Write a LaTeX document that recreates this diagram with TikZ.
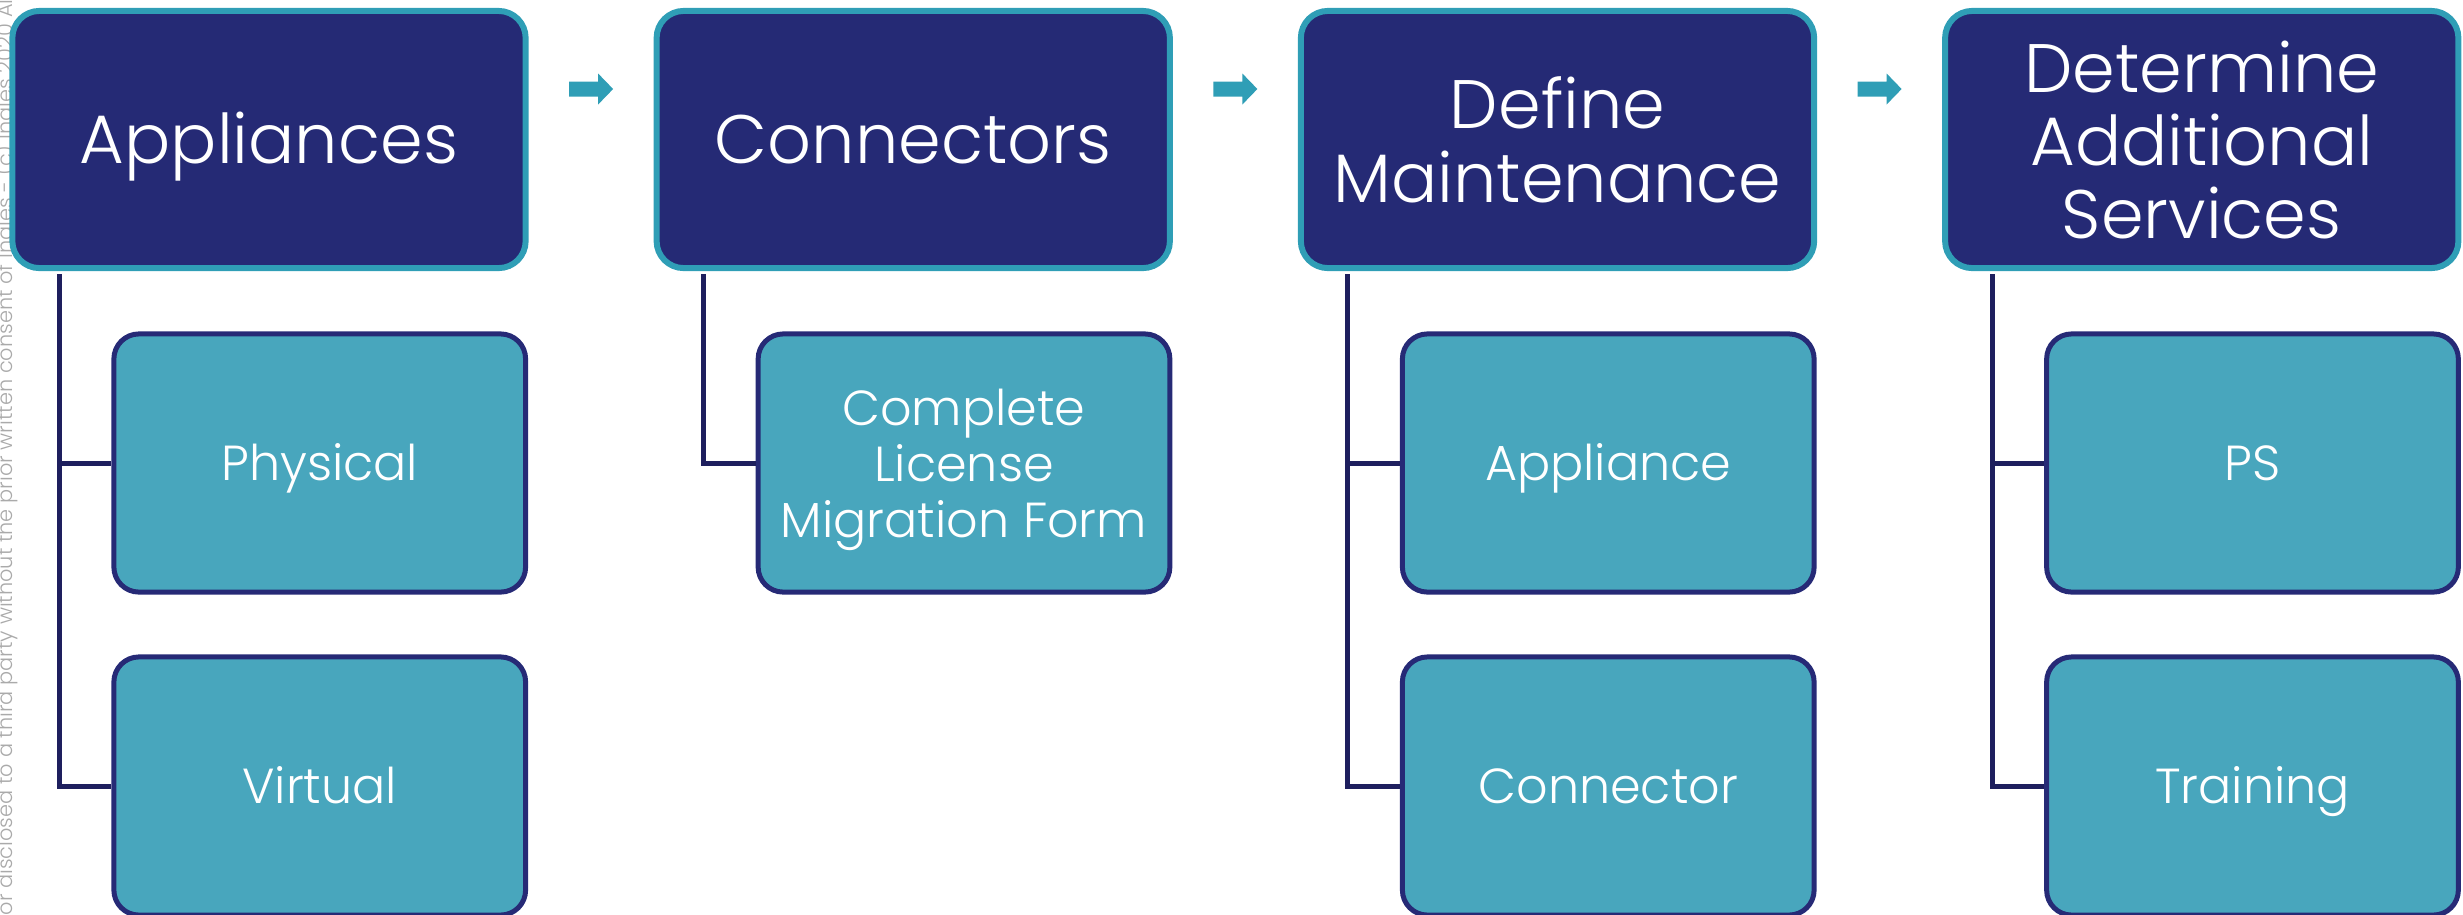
\documentclass[tikz,border=0pt]{standalone}
\usepackage{fontspec}
\IfFontExistsTF{Poppins Light}{\setmainfont{Poppins Light}}{\setmainfont{Poppins}}
\usetikzlibrary{calc}
\definecolor{navyf}{RGB}{37,42,117}
\definecolor{tealb}{RGB}{47,158,182}
\definecolor{subf}{RGB}{72,166,189}
\definecolor{navyb}{RGB}{38,42,118}
\definecolor{linec}{RGB}{30,31,94}
\definecolor{wmgray}{RGB}{170,170,170}
\begin{document}
\begin{tikzpicture}[x=0.01cm,y=-0.01cm,
  topbox/.style={draw=tealb, line width=1.7pt, fill=navyf, rounded corners=0.27cm,
    minimum width=5.13cm, minimum height=2.57cm, text=white, align=center,
    font=\fontsize{19.5}{20.8}\selectfont, inner sep=0pt, text depth=0pt},
  subbox/.style={draw=navyb, line width=1.42pt, fill=subf, rounded corners=0.25cm,
    minimum width=4.115cm, minimum height=2.58cm, text=white, align=center,
    font=\fontsize{14}{15.9}\selectfont, inner sep=0pt, text depth=0pt},
  onetop/.style={text height=13.6pt},
  onesub/.style={text height=9.8pt},
  conn/.style={draw=linec, line width=1.42pt},
  blockarrow/.style={fill=tealb}]
\useasboundingbox (0,0) rectangle (2463,914);
\clip (0,0) rectangle (2463,914);
% watermark
\node[rotate=90, anchor=base west, inner sep=0pt, text=wmgray] (wm) at (12.5,916)
  {\resizebox{9.2cm}{!}{or disclosed to a third party without the prior written consent of Ingles - (c) Ingles 2020 All}};
% top boxes
\node[topbox, onetop] (t1) at (269,139.5) {Appliances};
\node[topbox, onetop] (t2) at (913.25,139.5) {Connectors};
\node[topbox] (t3) at (1557.5,139.5) {Define\\Maintenance};
\node[topbox] (t4) at (2201.75,139.5) {Determine\\Additional\\Services};
% child boxes
\node[subbox, onesub] (c11) at (319.75,463) {Physical};
\node[subbox, onesub] (c12) at (319.75,786) {Virtual};
\node[subbox] (c21) at (964,463) {Complete\\License\\Migration Form};
\node[subbox, onesub] (c31) at (1608.25,463) {Appliance};
\node[subbox, onesub] (c32) at (1608.25,786) {Connector};
\node[subbox, onesub] (c41) at (2252.5,463) {PS};
\node[subbox, onesub] (c42) at (2252.5,786) {Training};
% connectors
\foreach \t in {1,2,3,4} {
  \coordinate (v\t) at ($(t\t.south west)+(50,3)$);
}
\draw[conn] (v1) |- (c11.west);
\draw[conn] (v1) |- (c12.west);
\draw[conn] (v2) |- (c21.west);
\draw[conn] (v3) |- (c31.west);
\draw[conn] (v3) |- (c32.west);
\draw[conn] (v4) |- (c41.west);
\draw[conn] (v4) |- (c42.west);
% block arrows
\foreach \a/\b in {1/2,2/3,3/4} {
  \coordinate (a\a) at ($(t\a.east)!0.5!(t\b.west)+(0,-50.5)$);
  \fill[blockarrow] ($(a\a)+(-22,-7.5)$) -- ($(a\a)+(7,-7.5)$) -- ($(a\a)+(7,-15.5)$)
    -- ($(a\a)+(22,0)$) -- ($(a\a)+(7,15.5)$) -- ($(a\a)+(7,7.5)$)
    -- ($(a\a)+(-22,7.5)$) -- cycle;
}
\end{tikzpicture}
\end{document}
